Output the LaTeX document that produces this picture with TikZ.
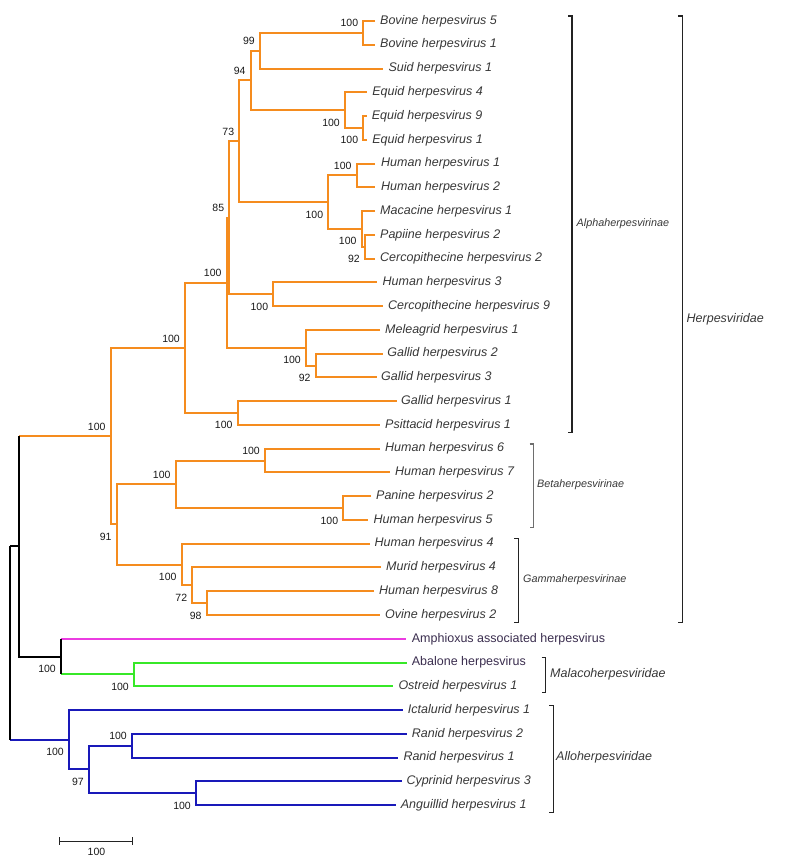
\documentclass[tikz,border=0pt]{standalone}
\usepackage{fontspec}
\setmainfont{Liberation Sans}
\definecolor{ora}{RGB}{245,140,30}
\definecolor{mag}{RGB}{235,60,225}
\definecolor{grn}{RGB}{55,232,40}
\definecolor{blu}{RGB}{25,25,185}
\definecolor{txt}{RGB}{55,55,55}
\definecolor{amph}{RGB}{58,45,78}
\definecolor{bsc}{RGB}{25,25,25}
\definecolor{brkc}{RGB}{35,35,35}
\definecolor{brkg}{RGB}{110,110,110}
\tikzset{
  br/.style={line width=2pt, line join=miter},
  leaflab/.style={anchor=west, inner sep=0pt, text=txt, font=\itshape\fontsize{12.5}{14}\selectfont},
  leafup/.style={anchor=west, inner sep=0pt, text=amph, font=\fontsize{12.5}{14}\selectfont},
  bs/.style={inner sep=0pt, text=bsc, font=\fontsize{10.5}{12}\selectfont},
  bsabove/.style={bs, anchor=east, xshift=-5pt, yshift=9.5pt},
  bsbelow/.style={bs, anchor=east, xshift=-5pt, yshift=-12.3pt},
  brk/.style={line width=1.2pt, draw=brkc},
  grp/.style={anchor=west, inner sep=0pt, text=txt, font=\itshape\fontsize{12.5}{14}\selectfont},
  subgrp/.style={anchor=west, inner sep=0pt, text=txt, font=\itshape\fontsize{10.8}{12}\selectfont}
}
\newcommand\lf[5]{\coordinate (#1) at (#2,#3); \node[#5] (#1t) at (#4,#3) {};}
\begin{document}
\begin{tikzpicture}[x=1pt,y=-1pt]
\useasboundingbox (0,0) rectangle (785,862);
% ---- leaves: end of branch and label
\coordinate (l0) at (375,21.00);   \node[leaflab] (t0) at (380,21.00) {Bovine herpesvirus 5};
\coordinate (l1) at (375,44.76);   \node[leaflab] (t1) at (380,44.76) {Bovine herpesvirus 1};
\coordinate (l2) at (383.3,68.52); \node[leaflab] (t2) at (388.3,68.52) {Suid herpesvirus 1};
\coordinate (l3) at (366.7,92.28); \node[leaflab] (t3) at (372.2,92.28) {Equid herpesvirus 4};
\coordinate (l4) at (366.7,116.04);\node[leaflab] (t4) at (371.7,116.04) {Equid herpesvirus 9};
\coordinate (l5) at (366.7,139.80);\node[leaflab] (t5) at (372.2,139.80) {Equid herpesvirus 1};
\coordinate (l6) at (375,163.56);  \node[leaflab] (t6) at (381,163.56) {Human herpesvirus 1};
\coordinate (l7) at (375,187.32);  \node[leaflab] (t7) at (381,187.32) {Human herpesvirus 2};
\coordinate (l8) at (375,211.08);  \node[leaflab] (t8) at (380,211.08) {Macacine herpesvirus 1};
\coordinate (l9) at (375,234.84);  \node[leaflab] (t9) at (380,234.84) {Papiine herpesvirus 2};
\coordinate (l10) at (375,258.60); \node[leaflab] (t10) at (380,258.60) {Cercopithecine herpesvirus 2};
\coordinate (l11) at (376.7,282.36);\node[leaflab] (t11) at (382.5,282.36) {Human herpesvirus 3};
\coordinate (l12) at (383,306.12); \node[leaflab] (t12) at (388,306.12) {Cercopithecine herpesvirus 9};
\coordinate (l13) at (380,329.88); \node[leaflab] (t13) at (385,329.88) {Meleagrid herpesvirus 1};
\coordinate (l14) at (382.7,353.64);\node[leaflab] (t14) at (387.2,353.64) {Gallid herpesvirus 2};
\coordinate (l15) at (376.7,377.40);\node[leaflab] (t15) at (381,377.40) {Gallid herpesvirus 3};
\coordinate (l16) at (396.7,401.16);\node[leaflab] (t16) at (401,401.16) {Gallid herpesvirus 1};
\coordinate (l17) at (380,424.92); \node[leaflab] (t17) at (385,424.92) {Psittacid herpesvirus 1};
\coordinate (l18) at (380,448.68); \node[leaflab] (t18) at (385,448.68) {Human herpesvirus 6};
\coordinate (l19) at (390,472.44); \node[leaflab] (t19) at (395,472.44) {Human herpesvirus 7};
\coordinate (l20) at (371,496.20); \node[leaflab] (t20) at (376,496.20) {Panine herpesvirus 2};
\coordinate (l21) at (368.3,519.96);\node[leaflab] (t21) at (373.5,519.96) {Human herpesvirus 5};
\coordinate (l22) at (370,543.72); \node[leaflab] (t22) at (374.5,543.72) {Human herpesvirus 4};
\coordinate (l23) at (381,567.48); \node[leaflab] (t23) at (386,567.48) {Murid herpesvirus 4};
\coordinate (l24) at (374,591.24); \node[leaflab] (t24) at (379,591.24) {Human herpesvirus 8};
\coordinate (l25) at (380,615.00); \node[leaflab] (t25) at (385,615.00) {Ovine herpesvirus 2};
\coordinate (l26) at (406,638.76); \node[leafup] (t26) at (411.7,638.76) {Amphioxus associated herpesvirus};
\coordinate (l27) at (406.7,662.52);\node[leafup] (t27) at (411.7,662.52) {Abalone herpesvirus};
\coordinate (l28) at (393,686.28); \node[leaflab] (t28) at (398.3,686.28) {Ostreid herpesvirus 1};
\coordinate (l29) at (402.7,710.04);\node[leaflab] (t29) at (407.7,710.04) {Ictalurid herpesvirus 1};
\coordinate (l30) at (406.7,733.80);\node[leaflab] (t30) at (411.7,733.80) {Ranid herpesvirus 2};
\coordinate (l31) at (398.3,757.56);\node[leaflab] (t31) at (403.3,757.56) {Ranid herpesvirus 1};
\coordinate (l32) at (401.7,781.32);\node[leaflab] (t32) at (406.3,781.32) {Cyprinid herpesvirus 3};
\coordinate (l33) at (396,805.08); \node[leaflab] (t33) at (400.7,805.08) {Anguillid herpesvirus 1};
% ---- internal nodes
\coordinate (A) at (363.3,32.88);
\coordinate (B) at (260,50.70);
\coordinate (C) at (363.3,127.92);
\coordinate (D) at (345,110.10);
\coordinate (E) at (250.7,80.40);
\coordinate (F) at (356.7,175.44);
\coordinate (G) at (365,246.72);
\coordinate (H) at (361.7,228.90);
\coordinate (I) at (328.3,202.17);
\coordinate (J) at (239.3,141.285);
\coordinate (K) at (273.3,294.24);
\coordinate (L) at (229.3,217.76);
\coordinate (M) at (315.7,365.52);
\coordinate (N) at (306,347.70);
\coordinate (O) at (226.7,282.73);
\coordinate (P) at (237.7,413.04);
\coordinate (Q) at (185,347.885);
\coordinate (R) at (265,460.56);
\coordinate (S) at (343.3,508.08);
\coordinate (T) at (175.7,484.32);
\coordinate (U) at (206.7,603.12);
\coordinate (V) at (192.3,585.30);
\coordinate (W) at (181.7,564.51);
\coordinate (X) at (116.7,524.415);
\coordinate (Y) at (110.7,436.15);
\coordinate (Z1) at (134,674.40);
\coordinate (Z2) at (61,656.58);
\coordinate (Z3) at (19.3,546.365);
\coordinate (a) at (132,745.68);
\coordinate (b) at (196,793.20);
\coordinate (c) at (89,769.44);
\coordinate (d) at (69,739.74);
\coordinate (root) at (10,643.05);
% ---- orange subtree
\begin{scope}[br, draw=ora]
\draw (l0) -| (A) |- (l1);
\draw (A) -| (B) |- (l2);
\draw (l4) -| (C) |- (l5);
\draw (l3) -| (D) |- (C);
\draw (B) -| (E) |- (D);
\draw (l6) -| (F) |- (l7);
\draw (l9) -| (G) |- (l10);
\draw (l8) -| (H) |- (G);
\draw (F) -| (I) |- (H);
\draw (E) -| (J) |- (I);
\draw (l11) -| (K) |- (l12);
\draw (J) -| (L) |- (K);
\draw (l14) -| (M) |- (l15);
\draw (l13) -| (N) |- (M);
\draw (L) -| (O) |- (N);
\draw (l16) -| (P) |- (l17);
\draw (O) -| (Q) |- (P);
\draw (l18) -| (R) |- (l19);
\draw (l20) -| (S) |- (l21);
\draw (R) -| (T) |- (S);
\draw (l24) -| (U) |- (l25);
\draw (l23) -| (V) |- (U);
\draw (l22) -| (W) |- (V);
\draw (T) -| (X) |- (W);
\draw (Q) -| (Y) |- (X);
\draw (Z3 |- Y) -- (Y);
\end{scope}
% ---- malaco and amphioxus
\draw[br, draw=grn] (l27) -| (Z1) |- (l28);
\draw[br, draw=grn] (Z2 |- Z1) -- (Z1);
\draw[br, draw=mag] (Z2 |- l26) -- (l26);
\draw[br, draw=black] (Z2 |- l26) -- (Z2 |- Z1);
% ---- allo
\begin{scope}[br, draw=blu]
\draw (l30) -| (a) |- (l31);
\draw (l32) -| (b) |- (l33);
\draw (a) -| (c) |- (b);
\draw (l29) -| (d) |- (c);
\draw (root |- d) -- (d);
\end{scope}
% ---- black backbone
\draw[br, draw=black] (Z3 |- Y) -- (Z3 |- Z2) -- (Z2);
\draw[br, draw=black] (root |- Z3) -- (Z3);
\draw[br, draw=black] (root |- Z3) -- (root |- d);
% ---- bootstrap values
\node[bsabove] (bA) at (A) {100};
\node[bsabove] (bB) at (B) {99};
\node[bsabove] (bE) at (E) {94};
\node[bsbelow] (bD) at (D) {100};
\node[bsbelow] (bC) at (C) {100};
\node[bsabove] (bJ) at (J) {73};
\node[bsabove] (bF) at (F) {100};
\node[bsbelow] (bI) at (I) {100};
\node[bsbelow] (bH) at (H) {100};
\node[bsbelow] (bG) at (G) {92};
\node[bsabove] (bL) at (L) {85};
\node[bsbelow] (bK) at (K) {100};
\node[bsabove] (bO) at (O) {100};
\node[bsbelow] (bN) at (N) {100};
\node[bsbelow] (bM) at (M) {92};
\node[bsabove] (bQ) at (Q) {100};
\node[bsbelow] (bP) at (P) {100};
\node[bsabove] (bY) at (Y) {100};
\node[bsabove] (bT) at (T) {100};
\node[bsabove] (bR) at (R) {100};
\node[bsbelow] (bS) at (S) {100};
\node[bsbelow] (bX) at (X) {91};
\node[bsbelow] (bW) at (W) {100};
\node[bsbelow] (bV) at (V) {72};
\node[bsbelow] (bU) at (U) {98};
\node[bsbelow] (bZ2) at (Z2) {100};
\node[bsbelow] (bZ1) at (Z1) {100};
\node[bsbelow] (bd) at (d) {100};
\node[bsbelow] (bc) at (c) {97};
\node[bsabove] (ba) at (a) {100};
\node[bsbelow] (bb) at (b) {100};
% ---- brackets
\draw[brk] (568,16) -- (572,16) -- (572,432.7) -- (568,432.7);
\node[subgrp] (alpha) at (576.5,223.5) {Alphaherpesvirinae};
\draw[brk, draw=brkg] (529.5,444) -- (533.5,444) -- (533.5,527.3) -- (529.5,527.3);
\node[subgrp] (beta) at (537,484.5) {Betaherpesvirinae};
\draw[brk] (514.3,538.5) -- (518.3,538.5) -- (518.3,622.7) -- (514.3,622.7);
\node[subgrp] (gamma) at (523,579.5) {Gammaherpesvirinae};
\draw[brk] (678.3,16) -- (682.3,16) -- (682.3,622.7) -- (678.3,622.7);
\node[grp] (herp) at (686.5,319) {Herpesviridae};
\draw[brk] (541.7,657.7) -- (545.7,657.7) -- (545.7,692.7) -- (541.7,692.7);
\node[grp] (mala) at (550,674.5) {Malacoherpesviridae};
\draw[brk] (549.3,705.7) -- (553.3,705.7) -- (553.3,812.7) -- (549.3,812.7);
\node[grp] (allo) at (556,757.5) {Alloherpesviridae};
% ---- scale bar
\coordinate (s1) at (59.3,841);
\coordinate (s2) at (132.7,841);
\draw[line width=1pt, draw=brkc] (s1) -- (s2);
\draw[line width=1pt, draw=brkc] ([yshift=4pt]s1) -- ([yshift=-4pt]s1);
\draw[line width=1pt, draw=brkc] ([yshift=4pt]s2) -- ([yshift=-4pt]s2);
\node[bs] (sl) at (96.5,852) {100};
\end{tikzpicture}
\end{document}
